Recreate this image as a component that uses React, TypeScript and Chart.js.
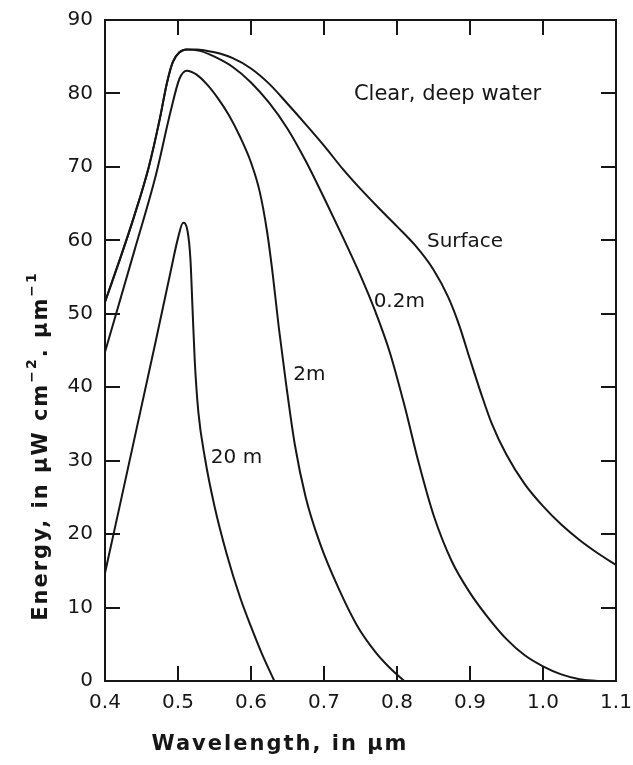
import React, { useEffect, useRef } from 'react';
import { Chart, registerables } from 'chart.js';

Chart.register(...registerables);

// ---- Data (wavelength in µm, energy in µW cm^-2 µm^-1) ----
const surfaceWl = [0.4, 0.42, 0.44, 0.46, 0.475, 0.485, 0.493, 0.502, 0.512, 0.525, 0.55, 0.575, 0.6, 0.625, 0.65, 0.675, 0.7, 0.725, 0.75, 0.775, 0.8, 0.825, 0.85, 0.87, 0.885, 0.9, 0.915, 0.93, 0.95, 0.975, 1.0, 1.025, 1.05, 1.075, 1.1];
const surfaceEnergy = [51.6, 57.3, 63.3, 70.0, 76.5, 81.5, 84.3, 85.6, 86.0, 86.0, 85.6, 84.8, 83.4, 81.3, 78.6, 75.8, 72.9, 69.8, 67.0, 64.4, 61.9, 59.3, 56.0, 52.3, 48.5, 43.8, 39.2, 35.0, 30.8, 26.8, 23.8, 21.3, 19.2, 17.4, 15.8];

const m02Wl = [0.4, 0.42, 0.44, 0.46, 0.475, 0.485, 0.493, 0.502, 0.512, 0.53, 0.55, 0.575, 0.6, 0.625, 0.65, 0.675, 0.7, 0.725, 0.75, 0.77, 0.79, 0.81, 0.83, 0.85, 0.875, 0.9, 0.925, 0.95, 0.975, 1.0, 1.025, 1.05, 1.075];
const m02Energy = [51.6, 57.3, 63.3, 70.0, 76.5, 81.5, 84.3, 85.6, 86.0, 85.8, 85.0, 83.6, 81.5, 78.7, 75.2, 70.8, 65.8, 60.6, 55.2, 50.4, 44.8, 37.6, 29.6, 22.6, 16.3, 12.0, 8.6, 5.7, 3.5, 2.0, 0.9, 0.25, 0];

const m2Wl = [0.4, 0.44, 0.47, 0.49, 0.502, 0.512, 0.525, 0.54, 0.555, 0.57, 0.585, 0.6, 0.612, 0.622, 0.63, 0.638, 0.648, 0.66, 0.675, 0.695, 0.72, 0.745, 0.77, 0.79, 0.81];
const m2Energy = [44.8, 58.5, 69.0, 77.6, 82.0, 83.1, 82.6, 81.2, 79.3, 77.0, 74.1, 70.6, 66.6, 61.2, 55.2, 48.2, 40.5, 32.2, 25.0, 18.6, 12.6, 7.6, 4.0, 1.8, 0];

const m20Wl = [0.4, 0.47, 0.49, 0.5, 0.507, 0.513, 0.517, 0.52, 0.523, 0.528, 0.537, 0.55, 0.567, 0.585, 0.6, 0.615, 0.632];
const m20Energy = [14.7, 46.5, 55.8, 60.3, 62.4, 61.3, 57.5, 50.5, 43.5, 36.5, 30.3, 23.8, 17.2, 11.4, 7.4, 3.7, 0];

const seriesNames = ['Surface', '0.2m', '2m', '20 m'];
const labelTexts = ['Clear, deep water', 'Surface', '0.2m', '2m', '20 m'];
const labelWl = [0.741, 0.841, 0.768, 0.658, 0.545];
const labelEnergy = [79.8, 59.8, 51.6, 41.7, 30.4];

const X_MIN = 0.4;
const X_MAX = 1.1;
const Y_MIN = 0;
const Y_MAX = 90;

const xTitle = 'Wavelength, in µm';
const yTitleParts = [
  { t: 'Energy, in µW cm', sup: false },
  { t: '−2', sup: true },
  { t: '. µm', sup: false },
  { t: '−1', sup: true },
];

// ---- Styles ----
const FONT = '"DejaVu Sans", sans-serif';
const INK = '#161616';

function pairs(xs: number[], ys: number[]) {
  return xs.map((x, i) => ({ x, y: ys[i] }));
}

const framePlugin = {
  id: 'frameTicks',
  afterDraw(chart: any) {
    const { ctx, chartArea: a, scales } = chart;
    const L = 15;
    ctx.save();
    ctx.strokeStyle = INK;
    ctx.lineWidth = 2;
    ctx.lineCap = 'butt';
    ctx.strokeRect(a.left, a.top, a.right - a.left, a.bottom - a.top);
    ctx.beginPath();
    scales.x.ticks.forEach((t: any) => {
      if (t.value <= X_MIN + 1e-9 || t.value >= X_MAX - 1e-9) return;
      const px = Math.round(scales.x.getPixelForValue(t.value));
      ctx.moveTo(px, a.bottom);
      ctx.lineTo(px, a.bottom - L);
      ctx.moveTo(px, a.top);
      ctx.lineTo(px, a.top + L);
    });
    scales.y.ticks.forEach((t: any) => {
      if (t.value <= Y_MIN + 1e-9 || t.value >= Y_MAX - 1e-9) return;
      const py = Math.round(scales.y.getPixelForValue(t.value));
      ctx.moveTo(a.left, py);
      ctx.lineTo(a.left + L, py);
      ctx.moveTo(a.right, py);
      ctx.lineTo(a.right - L, py);
    });
    ctx.stroke();
    ctx.restore();
  },
};

const textPlugin = {
  id: 'texts',
  afterDraw(chart: any) {
    const { ctx, chartArea: a, scales } = chart;
    ctx.save();
    ctx.fillStyle = INK;

    // in-plot labels
    ctx.textAlign = 'left';
    ctx.textBaseline = 'middle';
    labelTexts.forEach((t, i) => {
      const size = i === 0 ? 21 : 20;
      ctx.font = `${size}px ${FONT}`;
      ctx.fillText(t, scales.x.getPixelForValue(labelWl[i]), scales.y.getPixelForValue(labelEnergy[i]));
    });

    // x title
    ctx.font = `bold 21px ${FONT}`;
    (ctx as any).letterSpacing = '2px';
    ctx.textAlign = 'center';
    ctx.textBaseline = 'middle';
    ctx.fillText(xTitle, a.left + 175, a.bottom + 64);

    // y title (rotated with superscripts)
    ctx.translate(a.left - 58, a.top + 426);
    ctx.rotate(-Math.PI / 2);
    ctx.textAlign = 'left';
    ctx.textBaseline = 'alphabetic';
    const widths = yTitleParts.map((p) => {
      ctx.font = p.sup ? `bold 14px ${FONT}` : `bold 21px ${FONT}`;
      return ctx.measureText(p.t).width;
    });
    const total = widths.reduce((s, w) => s + w, 0);
    let x = -total / 2;
    yTitleParts.forEach((p, i) => {
      ctx.font = p.sup ? `bold 14px ${FONT}` : `bold 21px ${FONT}`;
      ctx.fillText(p.t, x, p.sup ? -11 : 0);
      x += widths[i];
    });
    ctx.restore();
  },
};

export default function App() {
  const ref = useRef<HTMLCanvasElement | null>(null);

  useEffect(() => {
    if (!ref.current) return;
    const lineStyle = {
      borderColor: INK,
      borderWidth: 2,
      pointRadius: 0,
      fill: false,
      cubicInterpolationMode: 'monotone' as const,
    };
    const chart = new Chart(ref.current, {
      type: 'line',
      data: {
        datasets: [
          { label: seriesNames[0], data: pairs(surfaceWl, surfaceEnergy), ...lineStyle },
          { label: seriesNames[1], data: pairs(m02Wl, m02Energy), ...lineStyle },
          { label: seriesNames[2], data: pairs(m2Wl, m2Energy), ...lineStyle },
          { label: seriesNames[3], data: pairs(m20Wl, m20Energy), ...lineStyle },
        ],
      },
      options: {
        responsive: false,
        animation: false,
        devicePixelRatio: 1,
        layout: { padding: { top: 20, right: 17, left: 0, bottom: 0 } },
        plugins: { legend: { display: false }, tooltip: { enabled: false } },
        scales: {
          x: {
            type: 'linear',
            min: X_MIN,
            max: X_MAX,
            ticks: {
              stepSize: 0.1,
              autoSkip: false,
              maxRotation: 0,
              padding: 12,
              color: INK,
              font: { family: FONT, size: 20, lineHeight: 1 },
              callback: (v: any) => Number(v).toFixed(1),
            },
            grid: { display: false, drawTicks: false },
            border: { display: false },
            afterFit: (s: any) => {
              s.height = 84;
              s.paddingLeft = 0;
              s.paddingRight = 0;
            },
          },
          y: {
            type: 'linear',
            min: Y_MIN,
            max: Y_MAX,
            ticks: {
              stepSize: 10,
              padding: 12,
              color: INK,
              font: { family: FONT, size: 20, lineHeight: 1 },
            },
            grid: { display: false, drawTicks: false },
            border: { display: false },
            afterFit: (s: any) => {
              s.width = 105;
              s.paddingTop = 0;
              s.paddingBottom = 0;
            },
          },
        },
      },
      plugins: [framePlugin, textPlugin],
    });
    return () => chart.destroy();
  }, []);

  return (
    <div style={{ position: 'absolute', left: 0, top: 0, width: 633, height: 765, background: '#fff' }}>
      <canvas ref={ref} width={633} height={765} style={{ width: 633, height: 765, display: 'block' }} />
    </div>
  );
}
